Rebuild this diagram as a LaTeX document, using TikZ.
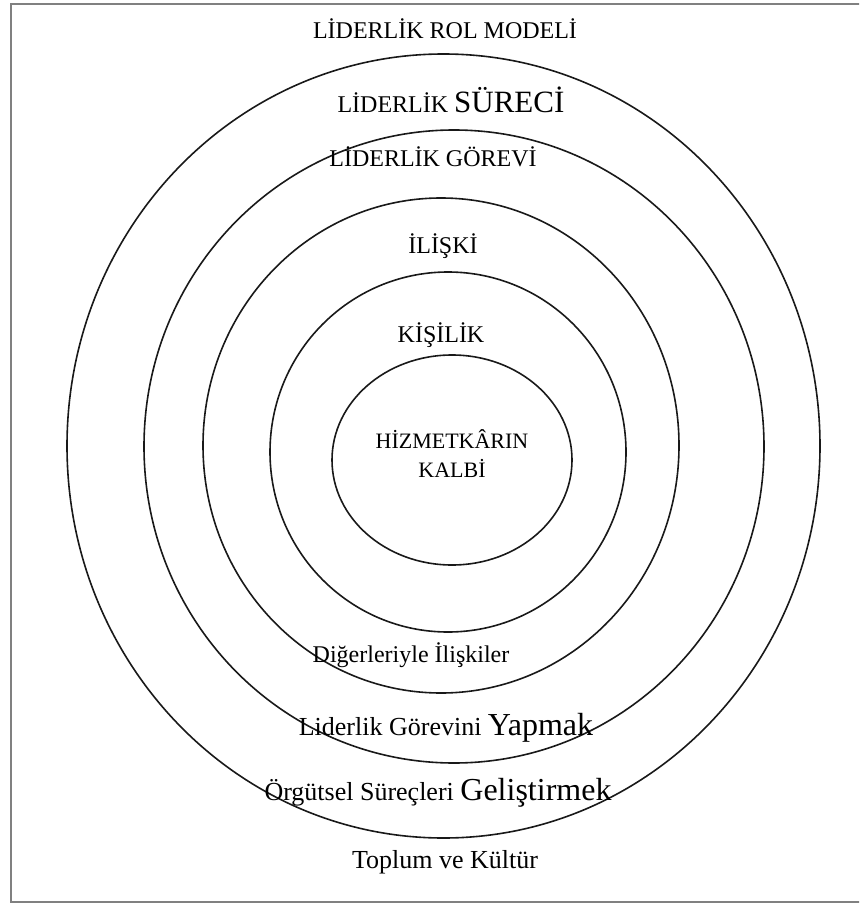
\documentclass[tikz,border=0pt]{standalone}
\usepackage{fontspec}
\setmainfont{Liberation Serif}

\begin{document}
\begin{tikzpicture}[
  x=1pt, y=-1pt,
  ring/.style={draw=black!90, line width=1.6pt},
  frame/.style={draw=black!50, line width=2.4pt},
  caps/.style={font=\fontsize{24}{28}\selectfont, inner sep=0pt, anchor=base},
  lower/.style={font=\fontsize{26}{30}\selectfont, inner sep=0pt, anchor=base},
]
\useasboundingbox (0,0) rectangle (859,904);
\clip (0,0) rectangle (859,904);

% ---------- frame ----------
\draw[frame] (11,4) rectangle (880,902);

% ---------- rings ----------
\draw[ring] (443.5,446) ellipse [x radius=376.5pt, y radius=392pt];
\draw[ring] (454,446.5) ellipse [x radius=310pt, y radius=316.5pt];
\draw[ring] (441,445.5) ellipse [x radius=238pt, y radius=247.5pt];
\draw[ring] (448,452) ellipse [x radius=178pt, y radius=180pt];
\draw[ring] (452,460) ellipse [x radius=120pt, y radius=105pt];

% ---------- upper labels ----------
\node[caps] (rolmodel) at (445,39) {LİDERLİK ROL MODELİ};
\node[caps] (surec) at (451,113) {LİDERLİK {\fontsize{31}{34}\selectfont SÜRECİ}};
\node[caps] (gorev) at (433,167) {LİDERLİK GÖREVİ};
\node[caps] (iliski) at (443,253) {İLİŞKİ};
\node[caps] (kisilik) at (441,342) {KİŞİLİK};

% ---------- core ----------
\node[caps, font=\fontsize{22}{26}\selectfont] (kalpA) at (452,448) {HİZMETKÂRIN};
\node[caps, font=\fontsize{22}{26}\selectfont] (kalpB) at (452,477) {KALBİ};

% ---------- lower labels ----------
\node[lower, font=\fontsize{24}{28}\selectfont] (digerleri) at (411,662) {Diğerleriyle İlişkiler};
\node[lower] (yapmak) at (446,735) {Liderlik Görevini {\fontsize{32}{36}\selectfont Yapmak}};
\node[lower] (gelistirmek) at (438,800) {Örgütsel Süreçleri {\fontsize{32}{36}\selectfont Geliştirmek}};
\node[lower] (toplum) at (445,868) {Toplum ve Kültür};

\end{tikzpicture}
\end{document}
